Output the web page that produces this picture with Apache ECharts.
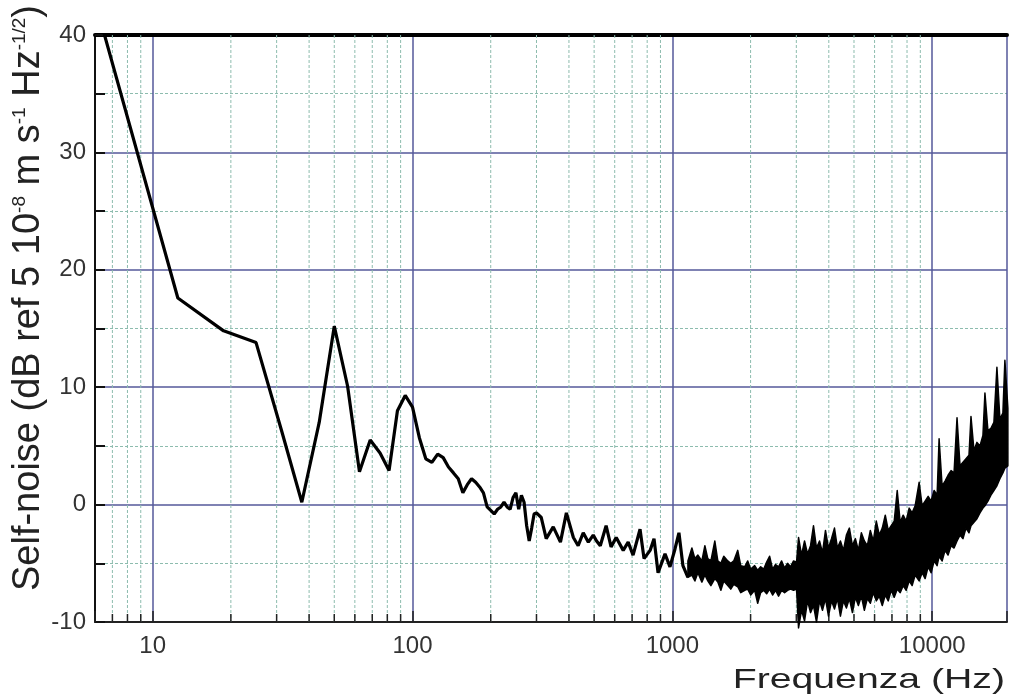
<!DOCTYPE html>
<html>
<head>
<meta charset="utf-8">
<script src="https://cdn.jsdelivr.net/npm/echarts@6/dist/echarts.min.js"></script>
<style>
  html, body { margin: 0; padding: 0; background: #fff; }
  #chart { width: 1010px; height: 700px; }
</style>
</head>
<body>
<div id="chart"></div>
<script>
// Self-noise spectrum: low-frequency FFT bins and readings of the trace (Hz, dB)
const lineHz = [6.25, 12.5, 18.75, 25, 31.25, 37.5, 43.75, 50, 56.25, 62.5, 68.75, 75, 81.25, 87.5, 93.75,
  100, 106.25, 112.5, 118.75, 125, 131.25, 137.5, 143.75, 150, 156.25, 162.5, 168.75, 175, 181.25, 187.5,
  193.75, 200, 206.25, 212.5, 218.75, 225, 231.25, 237.5, 243.75, 250, 256.25, 262.5, 268.75, 275, 281.25,
  287.5, 293.75, 300, 313, 327, 348, 371, 391, 416, 434, 454, 475, 496, 511, 528, 556, 581, 608, 647, 676, 706,
  751, 778, 821, 850, 881, 937, 979, 1023, 1060, 1098, 1148];
const lineDb = [41.5, 17.6, 14.8, 13.8, 6.4, 0.2, 7.0, 15.2, 10.1, 2.8, 5.5, 4.4, 2.9, 8.0, 9.3,
  8.3, 5.7, 3.9, 3.6, 4.3, 4.0, 3.2, 2.7, 2.2, 1.0, 1.7, 2.2, 1.9, 1.5, 1.0,
  -0.2, -0.5, -0.8, -0.4, -0.2, 0.2, -0.2, -0.4, 0.6, 1.0, -0.4, 0.8, 0.2, -1.8, -3.1,
  -2.0, -0.8, -0.7, -1.1, -2.9, -1.9, -3.2, -0.7, -2.8, -3.5, -2.4, -3.2, -2.6, -3.1, -3.5, -1.8, -3.6, -2.8, -3.9, -3.2, -4.3,
  -2.1, -4.6, -3.9, -2.9, -5.8, -4.2, -5.3, -3.8, -2.4, -5.2, -6.2];

// Dense high-frequency part: upper and lower edge of the noise band (Hz, dB)
const bandHz = [1148, 1189, 1221, 1254, 1299, 1334, 1369, 1407, 1457, 1496, 1537, 1577, 1634, 1678, 1723,
  1785, 1833, 1899, 1950, 2002, 2074, 2130, 2187, 2246, 2306, 2367, 2431, 2496, 2563, 2633, 2703, 2776,
  2850, 2927, 3006, 3059, 3141, 3226, 3313, 3402, 3493, 3587, 3684, 3782, 3884, 3989, 4096, 4206, 4318,
  4434, 4553, 4675, 4800, 4930, 5062, 5198, 5337, 5481, 5628, 5779, 5934, 6093, 6257, 6424, 6597, 6774,
  6955, 7142, 7334, 7530, 7732, 7940, 8153, 8371, 8597, 8906, 9145, 9392, 9645, 9904, 10170, 10443,
  10629, 10915, 11207, 11508, 11817, 12134, 12459, 12794, 13137, 13490, 13852, 14099, 14478, 14866,
  15266, 15675, 15955, 16384, 16823, 17275, 17742, 18217, 18707, 19041, 19552];
const bandTopDb = [-4.8, -3.7, -4.6, -4.3, -4.8, -3.5, -4.6, -4.8, -3.1, -4.8, -5.0, -4.4, -4.8, -5.0, -4.8,
  -3.9, -5.2, -5.3, -4.8, -5.5, -5.2, -5.6, -5.3, -5.5, -4.9, -4.4, -5.5, -5.1, -5.3, -4.8, -5.4, -5.0,
  -5.3, -4.8, -4.9, -2.8, -4.3, -3.1, -4.2, -3.5, -1.8, -3.7, -3.1, -4.1, -2.2, -3.7, -2.9, -2.0, -3.7,
  -3.1, -3.9, -2.6, -2.0, -3.5, -2.9, -3.9, -2.4, -3.1, -3.5, -2.2, -3.1, -1.4, -2.6, -2.0, -0.9, -2.2,
  -1.8, -1.4, 1.2, -1.5, -0.9, -1.4, -0.3, -0.7, -0.1, 1.9, -0.1, 0.3, 0.7, 0.3, 1.2, 0.8,
  5.6, 1.6, 2.0, 2.5, 2.9, 2.7, 7.4, 3.3, 3.6, 3.9, 4.2, 7.5, 4.6, 5.3,
  5.0, 5.9, 9.5, 6.3, 6.5, 7.0, 11.7, 7.3, 7.8, 12.3, 8.2];
const bandBottomDb = [-6.2, -6.0, -6.5, -5.8, -6.6, -6.0, -6.5, -6.9, -6.3, -6.6, -7.3, -6.5, -6.9, -7.2, -6.8,
  -7.0, -7.5, -7.3, -7.2, -7.7, -7.3, -8.4, -7.5, -7.3, -7.6, -7.2, -7.7, -7.3, -7.8, -7.3, -7.5, -7.3,
  -7.2, -7.3, -7.2, -10.5, -9.0, -9.9, -8.2, -9.2, -8.6, -10.0, -8.2, -9.0, -8.0, -9.5, -8.2, -8.9, -8.0,
  -9.5, -8.2, -8.8, -8.0, -9.2, -7.9, -8.6, -7.8, -9.0, -8.0, -8.4, -7.5, -8.2, -7.8, -8.6, -7.7, -8.2,
  -7.3, -7.9, -7.2, -7.5, -6.9, -7.3, -6.5, -6.9, -6.0, -6.5, -5.8, -6.3, -5.3, -5.8, -4.8, -5.2,
  -4.4, -4.8, -3.9, -4.3, -3.5, -3.7, -3.1, -2.6, -2.9, -2.0, -2.4, -1.8, -1.5, -1.2,
  -0.7, -0.3, -0.1, 0.3, 0.8, 1.2, 1.6, 2.2, 2.7, 3.1, 3.3];

// Axis ticks
const decadeHz = [10, 100, 1000, 10000];
const minorHz = [7, 8, 9, 20, 30, 40, 50, 60, 70, 80, 90, 200, 300, 400, 500, 600, 700, 800, 900,
  2000, 3000, 4000, 5000, 6000, 7000, 8000, 9000];
const xMin = 6, xMax = 19400;
const yMin = -10, yMax = 40, yStep = 10;

const majorGrid = '#55589a';
const minorGrid = '#8dbcae';

const chart = echarts.init(document.getElementById('chart'), null, { renderer: 'canvas' });

chart.setOption({
  animation: false,
  backgroundColor: '#ffffff',
  grid: { left: 95, right: 0, top: 35, bottom: 78, containLabel: false },
  xAxis: [
    {
      type: 'log', logBase: 10, min: xMin, max: xMax, position: 'bottom',
      axisLine: { show: true, onZero: false, lineStyle: { color: '#222', width: 2 } },
      axisTick: { show: true, inside: true, length: 11, lineStyle: { color: '#222', width: 1.5 } },
      axisLabel: {
        margin: 12, fontSize: 24, fontFamily: 'Liberation Sans', color: '#333',
        formatter: function (v) {
          const hit = decadeHz.find(function (m) { return Math.abs(v - m) / m < 1e-6; });
          return hit ? String(hit) : '';
        }
      },
      splitLine: { show: true, lineStyle: { color: majorGrid, width: 1.5 } }
    },
    {
      // heavy frame line along the top of the plot
      type: 'value', position: 'top', min: 0, max: 1,
      axisLine: { show: true, onZero: false, lineStyle: { color: '#000', width: 4 } },
      axisTick: { show: false }, axisLabel: { show: false }, splitLine: { show: false }
    }
  ],
  yAxis: {
    type: 'value', min: yMin, max: yMax, interval: yStep,
    axisLine: { show: true, onZero: false, lineStyle: { color: '#111', width: 2 } },
    axisTick: { show: true, inside: true, length: 10, lineStyle: { color: '#111', width: 2 } },
    minorTick: { show: true, splitNumber: 2, length: 10, lineStyle: { color: '#111', width: 2 } },
    axisLabel: { margin: 9, fontSize: 24, fontFamily: 'Liberation Sans', color: '#333' },
    splitLine: { show: true, lineStyle: { color: majorGrid, width: 1.5 } },
    minorSplitLine: { show: true, lineStyle: { color: minorGrid, width: 1, type: [3, 2] } }
  },
  graphic: [
    {
      type: 'text', x: 1005, y: 680, scaleX: 1.4, z: 10,
      style: {
        text: 'Frequenza (Hz)', fontSize: 28, fontFamily: 'Liberation Sans', fill: '#222',
        align: 'right', verticalAlign: 'middle', textAlign: 'right', textVerticalAlign: 'middle'
      }
    },
    {
      type: 'text', x: 29, y: 298, rotation: Math.PI / 2, z: 10,
      style: {
        text: '{n|Self-noise (dB ref 5 10}{s|-8}{n| m s}{s|-1}{n| Hz}{s|-1/2}{n|)}',
        align: 'center', verticalAlign: 'middle', textAlign: 'center', textVerticalAlign: 'middle',
        rich: {
          n: { fontSize: 38, fontFamily: 'Liberation Sans', fill: '#222' },
          s: { fontSize: 19, fontFamily: 'Liberation Sans', fill: '#222', verticalAlign: 'top' }
        }
      }
    }
  ],
  series: [
    {
      // dotted minor grid at 2..9 x each decade, with short inward ticks
      type: 'custom', xAxisIndex: 0, yAxisIndex: 0, z: 1, silent: true, clip: false,
      data: minorHz.map(function (f) { return [f, yMin]; }),
      renderItem: function (params, api) {
        const f = api.value(0);
        const top = api.coord([f, yMax]);
        const bot = api.coord([f, yMin]);
        return {
          type: 'group',
          children: [
            { type: 'line', shape: { x1: top[0], y1: top[1], x2: bot[0], y2: bot[1] },
              style: { stroke: minorGrid, lineWidth: 1, lineDash: [3, 2] } },
            { type: 'line', shape: { x1: bot[0], y1: bot[1], x2: bot[0], y2: bot[1] - 8 },
              style: { stroke: '#222', lineWidth: 1.5 } }
          ]
        };
      }
    },
    {
      name: 'Self-noise', type: 'line', xAxisIndex: 0, yAxisIndex: 0, z: 4,
      data: lineHz.map(function (f, i) { return [f, lineDb[i]]; }),
      symbol: 'none', showSymbol: false, clip: true,
      lineStyle: { color: '#000', width: 3.2 }
    },
    {
      // filled envelope of the dense noise band
      type: 'custom', xAxisIndex: 0, yAxisIndex: 0, z: 4, silent: true, clip: false,
      data: bandHz.map(function (f, i) { return [f, bandTopDb[i], bandBottomDb[i]]; }),
      renderItem: function (params, api) {
        if (params.dataIndex !== 0) return null;
        const pts = [];
        for (let i = 0; i < bandHz.length; i++) pts.push(api.coord([bandHz[i], bandTopDb[i]]));
        for (let i = bandHz.length - 1; i >= 0; i--) pts.push(api.coord([bandHz[i], bandBottomDb[i]]));
        return { type: 'polygon', shape: { points: pts },
                 style: { fill: '#000', stroke: '#000', lineWidth: 1.5, lineJoin: 'round' } };
      }
    }
  ]
});
</script>
</body>
</html>
